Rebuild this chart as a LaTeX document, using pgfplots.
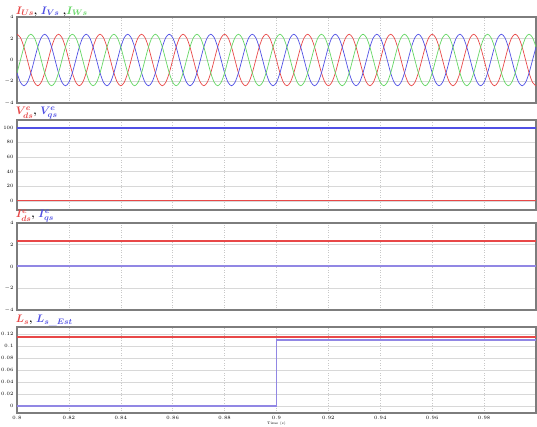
\documentclass[border=0pt]{standalone}
\usepackage{pgfplots}
\usepackage{pgfplotstable}
\usepackage{bm}
\pgfplotsset{compat=1.18}
\definecolor{cRed}{RGB}{232,72,72}
\definecolor{cBlue}{RGB}{80,80,228}
\definecolor{cGreen}{RGB}{100,214,100}
\definecolor{cLav}{RGB}{145,135,228}
\definecolor{framegray}{RGB}{125,125,125}
\definecolor{gridgray}{RGB}{216,216,216}
\definecolor{vgridgray}{RGB}{200,200,200}

\pgfplotstableread{
t u v w
0.8 2.4 -1.2 -1.2
0.80133 2.078 -2.078 0
0.80267 1.2 -2.4 1.2
0.804 0 -2.078 2.078
0.80533 -1.2 -1.2 2.4
0.80667 -2.078 0 2.078
0.808 -2.4 1.2 1.2
0.80933 -2.078 2.078 0
0.81067 -1.2 2.4 -1.2
0.812 0 2.078 -2.078
0.81333 1.2 1.2 -2.4
0.81467 2.078 0 -2.078
0.816 2.4 -1.2 -1.2
0.81733 2.078 -2.078 0
0.81867 1.2 -2.4 1.2
0.82 0 -2.078 2.078
0.82133 -1.2 -1.2 2.4
0.82267 -2.078 0 2.078
0.824 -2.4 1.2 1.2
0.82533 -2.078 2.078 0
0.82667 -1.2 2.4 -1.2
0.828 0 2.078 -2.078
0.82933 1.2 1.2 -2.4
0.83067 2.078 0 -2.078
0.832 2.4 -1.2 -1.2
0.83333 2.078 -2.078 0
0.83467 1.2 -2.4 1.2
0.836 0 -2.078 2.078
0.83733 -1.2 -1.2 2.4
0.83867 -2.078 0 2.078
0.84 -2.4 1.2 1.2
0.84133 -2.078 2.078 0
0.84267 -1.2 2.4 -1.2
0.844 0 2.078 -2.078
0.84533 1.2 1.2 -2.4
0.84667 2.078 0 -2.078
0.848 2.4 -1.2 -1.2
0.84933 2.078 -2.078 0
0.85067 1.2 -2.4 1.2
0.852 0 -2.078 2.078
0.85333 -1.2 -1.2 2.4
0.85467 -2.078 0 2.078
0.856 -2.4 1.2 1.2
0.85733 -2.078 2.078 0
0.85867 -1.2 2.4 -1.2
0.86 0 2.078 -2.078
0.86133 1.2 1.2 -2.4
0.86267 2.078 0 -2.078
0.864 2.4 -1.2 -1.2
0.86533 2.078 -2.078 0
0.86667 1.2 -2.4 1.2
0.868 0 -2.078 2.078
0.86933 -1.2 -1.2 2.4
0.87067 -2.078 0 2.078
0.872 -2.4 1.2 1.2
0.87333 -2.078 2.078 0
0.87467 -1.2 2.4 -1.2
0.876 0 2.078 -2.078
0.87733 1.2 1.2 -2.4
0.87867 2.078 0 -2.078
0.88 2.4 -1.2 -1.2
0.88133 2.078 -2.078 0
0.88267 1.2 -2.4 1.2
0.884 0 -2.078 2.078
0.88533 -1.2 -1.2 2.4
0.88667 -2.078 0 2.078
0.888 -2.4 1.2 1.2
0.88933 -2.078 2.078 0
0.89067 -1.2 2.4 -1.2
0.892 0 2.078 -2.078
0.89333 1.2 1.2 -2.4
0.89467 2.078 0 -2.078
0.896 2.4 -1.2 -1.2
0.89733 2.078 -2.078 0
0.89867 1.2 -2.4 1.2
0.9 0 -2.078 2.078
0.90133 -1.2 -1.2 2.4
0.90267 -2.078 0 2.078
0.904 -2.4 1.2 1.2
0.90533 -2.078 2.078 0
0.90667 -1.2 2.4 -1.2
0.908 0 2.078 -2.078
0.90933 1.2 1.2 -2.4
0.91067 2.078 0 -2.078
0.912 2.4 -1.2 -1.2
0.91333 2.078 -2.078 0
0.91467 1.2 -2.4 1.2
0.916 0 -2.078 2.078
0.91733 -1.2 -1.2 2.4
0.91867 -2.078 0 2.078
0.92 -2.4 1.2 1.2
0.92133 -2.078 2.078 0
0.92267 -1.2 2.4 -1.2
0.924 0 2.078 -2.078
0.92533 1.2 1.2 -2.4
0.92667 2.078 0 -2.078
0.928 2.4 -1.2 -1.2
0.92933 2.078 -2.078 0
0.93067 1.2 -2.4 1.2
0.932 0 -2.078 2.078
0.93333 -1.2 -1.2 2.4
0.93467 -2.078 0 2.078
0.936 -2.4 1.2 1.2
0.93733 -2.078 2.078 0
0.93867 -1.2 2.4 -1.2
0.94 0 2.078 -2.078
0.94133 1.2 1.2 -2.4
0.94267 2.078 0 -2.078
0.944 2.4 -1.2 -1.2
0.94533 2.078 -2.078 0
0.94667 1.2 -2.4 1.2
0.948 0 -2.078 2.078
0.94933 -1.2 -1.2 2.4
0.95067 -2.078 0 2.078
0.952 -2.4 1.2 1.2
0.95333 -2.078 2.078 0
0.95467 -1.2 2.4 -1.2
0.956 0 2.078 -2.078
0.95733 1.2 1.2 -2.4
0.95867 2.078 0 -2.078
0.96 2.4 -1.2 -1.2
0.96133 2.078 -2.078 0
0.96267 1.2 -2.4 1.2
0.964 0 -2.078 2.078
0.96533 -1.2 -1.2 2.4
0.96667 -2.078 0 2.078
0.968 -2.4 1.2 1.2
0.96933 -2.078 2.078 0
0.97067 -1.2 2.4 -1.2
0.972 0 2.078 -2.078
0.97333 1.2 1.2 -2.4
0.97467 2.078 0 -2.078
0.976 2.4 -1.2 -1.2
0.97733 2.078 -2.078 0
0.97867 1.2 -2.4 1.2
0.98 0 -2.078 2.078
0.98133 -1.2 -1.2 2.4
0.98267 -2.078 0 2.078
0.984 -2.4 1.2 1.2
0.98533 -2.078 2.078 0
0.98667 -1.2 2.4 -1.2
0.988 0 2.078 -2.078
0.98933 1.2 1.2 -2.4
0.99067 2.078 0 -2.078
0.992 2.4 -1.2 -1.2
0.99333 2.078 -2.078 0
0.99467 1.2 -2.4 1.2
0.996 0 -2.078 2.078
0.99733 -1.2 -1.2 2.4
0.99867 -2.078 0 2.078
1.0 -2.4 1.2 1.2
}\phasecurrents

\pgfplotsset{
  panel/.style={
    scale only axis,
    width=519bp,
    xmin=0.8, xmax=1.0,
    anchor=south west,
    axis line style={draw=framegray, line width=1.5bp},
    xtick={0.8,0.82,0.84,0.86,0.88,0.9,0.92,0.94,0.96,0.98},
    xmajorgrids, ymajorgrids,
    major grid style={draw=gridgray, line width=0.5bp},
    every axis x grid/.style={dotted, draw=vgridgray},
    tick style={draw=none},
    tick label style={font=\fontsize{3.6}{4}\selectfont},
    yticklabel style={/pgf/number format/fixed},
    xticklabel style={/pgf/number format/fixed, /pgf/number format/precision=2},
  },
}
\tikzset{ttl/.style={anchor=south west, inner sep=0.6bp, font=\fontsize{11}{12}\selectfont}}

\begin{document}
\begin{tikzpicture}
% Panel 1
\begin{axis}[panel, at={(17bp,324bp)}, height=86bp,
  ymin=-4, ymax=4, ytick={-4,-2,0,2,4}, xticklabels={}]
\addplot[draw=cRed, no marks, line width=0.7bp, smooth] table[x=t, y=u] {\phasecurrents};
\addplot[draw=cBlue, no marks, line width=0.7bp, smooth] table[x=t, y=v] {\phasecurrents};
\addplot[draw=cGreen, no marks, line width=0.7bp, smooth] table[x=t, y=w] {\phasecurrents};
\end{axis}
% Panel 2
\begin{axis}[panel, at={(17bp,217bp)}, height=90bp,
  ymin=-12.5, ymax=110.5, ytick={0,20,40,60,80,100}, xticklabels={}]
\addplot[draw=cRed, no marks, line width=1.2bp] coordinates {(0.8,0) (1.0,0)};
\addplot[draw=cBlue, no marks, line width=1.9bp] coordinates {(0.8,100) (1.0,100)};
\end{axis}
% Panel 3
\begin{axis}[panel, at={(17bp,117bp)}, height=87bp,
  ymin=-4, ymax=4, ytick={-4,-2,0,2,4}, xticklabels={}]
\addplot[draw=cRed, no marks, line width=1.2bp] coordinates {(0.8,2.35) (1.0,2.35)};
\addplot[draw=cLav, no marks, line width=2bp] coordinates {(0.8,0) (1.0,0)};
\end{axis}
% Panel 4
\begin{axis}[panel, at={(17bp,14bp)}, height=86bp,
  ymin=-0.012, ymax=0.132, ytick={0,0.02,0.04,0.06,0.08,0.1,0.12},
  xlabel={Time (s)}, xlabel style={font=\fontsize{3.6}{4}\selectfont, inner sep=0.5bp, yshift=1.5bp}]
\addplot[draw=cRed, no marks, line width=1.8bp] coordinates {(0.8,0.1152) (1.0,0.1152)};
\addplot[draw=cLav, no marks, line width=1.8bp] coordinates {(0.8,0) (0.9,0) (0.9,0.1105) (1.0,0.1105)};
\end{axis}
% Titles
\node[ttl] at (15bp,410bp)
  {\textcolor{cRed}{$\bm{I_{Us}}$}\textbf{,} \textcolor{cBlue}{$\bm{I_{Vs}}$} \textbf{,}\textcolor{cGreen}{$\bm{I_{Ws}}$}};
\node[ttl] at (15bp,307bp)
  {\textcolor{cRed}{$\bm{V^{e}_{ds}}$}\textbf{,} \textcolor{cBlue}{$\bm{V^{e}_{qs}}$}};
\node[ttl] at (15bp,204bp)
  {\textcolor{cRed}{$\bm{I^{e}_{ds}}$}\textbf{,} \textcolor{cBlue}{$\bm{I^{e}_{qs}}$}};
\node[ttl] at (15bp,100bp)
  {\textcolor{cRed}{$\bm{L_{s}}$}\textbf{,} \textcolor{cBlue}{$\bm{L_{s\_Est}}$}};
\pgfresetboundingbox
\path[use as bounding box] (0bp,0bp) rectangle (537bp,427bp);
\end{tikzpicture}
\end{document}
